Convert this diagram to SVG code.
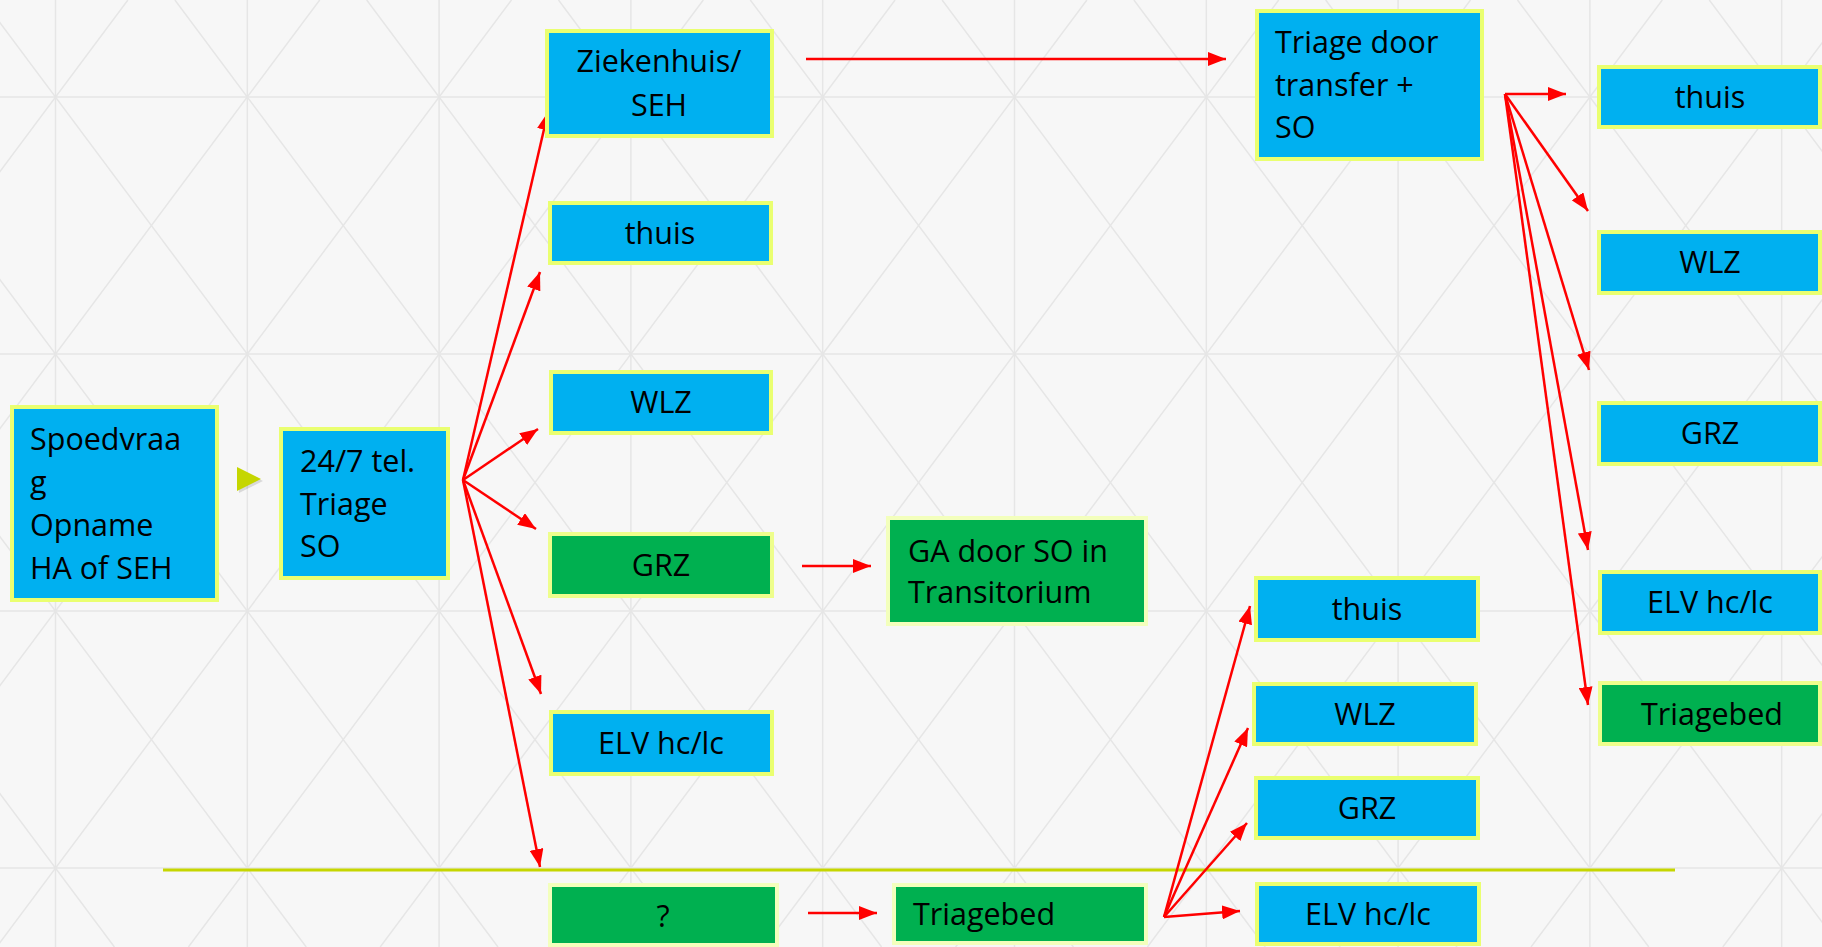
<svg xmlns="http://www.w3.org/2000/svg" width="1822" height="947" viewBox="0 0 1822 947">
<defs>
<style>
.bg{fill:#f7f7f7}
.grid{fill:none;stroke:#e6e6e6;stroke-width:1.5}
.blue{fill:#00b0f0;stroke:#eaff70;stroke-width:4}
.green{fill:#00b050;stroke:#eefe8c;stroke-width:4}
.pale{fill:#00b050;stroke:#f3ffbc;stroke-width:4}
.t{font-family:"Open Sans","Liberation Sans",sans-serif;font-size:30.5px;fill:#000}
.c{text-anchor:middle}
.con{fill:none;stroke:#ff0000;stroke-width:2.5;marker-end:url(#ah)}
</style>
<marker id="ah" viewBox="0 0 18 14" refX="18" refY="7" markerWidth="18" markerHeight="14" markerUnits="userSpaceOnUse" orient="auto">
<path d="M0,0 L18,7 L0,14 z" fill="#ff0000"/>
</marker>
</defs>
<rect class="bg" x="0" y="0" width="1822" height="947"/>
<g id="background-grid">
<path class="grid" d="M55.5 0V947M247.3 0V947M439.1 0V947M630.9 0V947M822.7 0V947M1014.5 0V947M1206.3 0V947M1398.1 0V947M1589.9 0V947M1781.7 0V947M0 97H1822M0 354H1822M0 611H1822M0 868H1822"/>
<path class="grid" d="M-592.3 0L114.4 947M-400.5 0L306.2 947M-208.7 0L498 947M-16.9 0L689.8 947M174.9 0L881.6 947M366.7 0L1073.4 947M558.5 0L1265.2 947M750.3 0L1457 947M942.1 0L1648.8 947M1133.9 0L1840.6 947M1325.7 0L2032.4 947M1517.5 0L2224.2 947M1709.3 0L2416 947"/>
<path class="grid" d="M127.9 0L-578.8 947M319.7 0L-387 947M511.5 0L-195.2 947M703.3 0L-3.4 947M895.1 0L188.4 947M1086.9 0L380.2 947M1278.7 0L572 947M1470.5 0L763.8 947M1662.3 0L955.6 947M1854.1 0L1147.4 947M2045.9 0L1339.2 947M2237.7 0L1531 947M2429.5 0L1722.8 947M2621.3 0L1914.6 947"/>
</g>
<line id="separator" x1="163" y1="870" x2="1675" y2="870" stroke="#c6d600" stroke-width="3"/>
<g id="start-arrow">
<polygon points="239,469 263,481 239,493" fill="#000" opacity="0.12"/>
<polygon points="237,467 261,479 237,491" fill="#c5d600"/>
</g>
<g id="connectors">
<line class="con" x1="463" y1="480" x2="548" y2="112"/>
<line class="con" x1="463" y1="480" x2="540" y2="272"/>
<line class="con" x1="463" y1="480" x2="538" y2="429"/>
<line class="con" x1="463" y1="480" x2="536" y2="529"/>
<line class="con" x1="463" y1="480" x2="541" y2="694"/>
<line class="con" x1="463" y1="480" x2="540" y2="867"/>
<line class="con" x1="806" y1="59" x2="1226" y2="59"/>
<line class="con" x1="802" y1="566" x2="871" y2="566"/>
<line class="con" x1="808" y1="913" x2="877" y2="913"/>
<line class="con" x1="1164" y1="917" x2="1250" y2="606"/>
<line class="con" x1="1164" y1="917" x2="1248" y2="728"/>
<line class="con" x1="1164" y1="917" x2="1247" y2="823"/>
<line class="con" x1="1164" y1="917" x2="1240" y2="911"/>
<line class="con" x1="1505" y1="94" x2="1566" y2="94"/>
<line class="con" x1="1505" y1="94" x2="1588" y2="211"/>
<line class="con" x1="1505" y1="94" x2="1589" y2="370"/>
<line class="con" x1="1505" y1="94" x2="1588" y2="550"/>
<line class="con" x1="1505" y1="94" x2="1588" y2="705"/>
</g>
<g id="spoedvraag">
<rect class="blue" x="12" y="407" width="205" height="193"/>
<text class="t" x="30" y="450">Spoedvraa</text>
<text class="t" x="30" y="493">g</text>
<text class="t" x="30" y="536">Opname</text>
<text class="t" x="30" y="579">HA of SEH</text>
</g>
<g id="triage-247">
<rect class="blue" x="281" y="429" width="167" height="149"/>
<text class="t" x="300" y="472">24/7 tel.</text>
<text class="t" x="300" y="515">Triage</text>
<text class="t" x="300" y="557">SO</text>
</g>
<g id="ziekenhuis">
<rect class="blue" x="547" y="31" width="225" height="105"/>
<text class="t c" x="659" y="72">Ziekenhuis/</text>
<text class="t c" x="659" y="116">SEH</text>
</g>
<g id="thuis-1">
<rect class="blue" x="550" y="203" width="221" height="60"/>
<text class="t c" x="660" y="244">thuis</text>
</g>
<g id="wlz-1">
<rect class="blue" x="551" y="372" width="220" height="61"/>
<text class="t c" x="661" y="413">WLZ</text>
</g>
<g id="grz-1">
<rect class="green" x="550" y="534" width="222" height="62"/>
<text class="t c" x="661" y="576">GRZ</text>
</g>
<g id="elv-1">
<rect class="blue" x="551" y="712" width="221" height="62"/>
<text class="t c" x="661" y="754">ELV hc/lc</text>
</g>
<g id="vraag">
<rect class="pale" x="550" y="885" width="227" height="60"/>
<text class="t c" x="663" y="927">?</text>
</g>
<g id="ga-transitorium">
<rect class="pale" x="888" y="518" width="258" height="106"/>
<text class="t" x="908" y="562">GA door SO in</text>
<text class="t" x="908" y="603">Transitorium</text>
</g>
<g id="triagebed-1">
<rect class="pale" x="894" y="885" width="252" height="58"/>
<text class="t" x="913" y="925">Triagebed</text>
</g>
<g id="triage-door-transfer">
<rect class="blue" x="1257" y="11" width="225" height="148"/>
<text class="t" x="1275" y="53">Triage door</text>
<text class="t" x="1275" y="96">transfer +</text>
<text class="t" x="1275" y="138">SO</text>
</g>
<g id="thuis-2">
<rect class="blue" x="1256" y="578" width="222" height="62"/>
<text class="t c" x="1367" y="620">thuis</text>
</g>
<g id="wlz-2">
<rect class="blue" x="1254" y="684" width="222" height="60"/>
<text class="t c" x="1365" y="725">WLZ</text>
</g>
<g id="grz-2">
<rect class="blue" x="1256" y="778" width="222" height="60"/>
<text class="t c" x="1367" y="819">GRZ</text>
</g>
<g id="elv-2">
<rect class="blue" x="1257" y="884" width="222" height="60"/>
<text class="t c" x="1368" y="925">ELV hc/lc</text>
</g>
<g id="thuis-3">
<rect class="blue" x="1599" y="67" width="221" height="60"/>
<text class="t c" x="1710" y="108">thuis</text>
</g>
<g id="wlz-3">
<rect class="blue" x="1599" y="232" width="221" height="61"/>
<text class="t c" x="1710" y="273">WLZ</text>
</g>
<g id="grz-3">
<rect class="blue" x="1599" y="403" width="221" height="61"/>
<text class="t c" x="1710" y="444">GRZ</text>
</g>
<g id="elv-3">
<rect class="blue" x="1600" y="572" width="220" height="61"/>
<text class="t c" x="1710" y="613">ELV hc/lc</text>
</g>
<g id="triagebed-2">
<rect class="green" x="1600" y="683" width="220" height="61"/>
<text class="t c" x="1712" y="725">Triagebed</text>
</g>
</svg>
